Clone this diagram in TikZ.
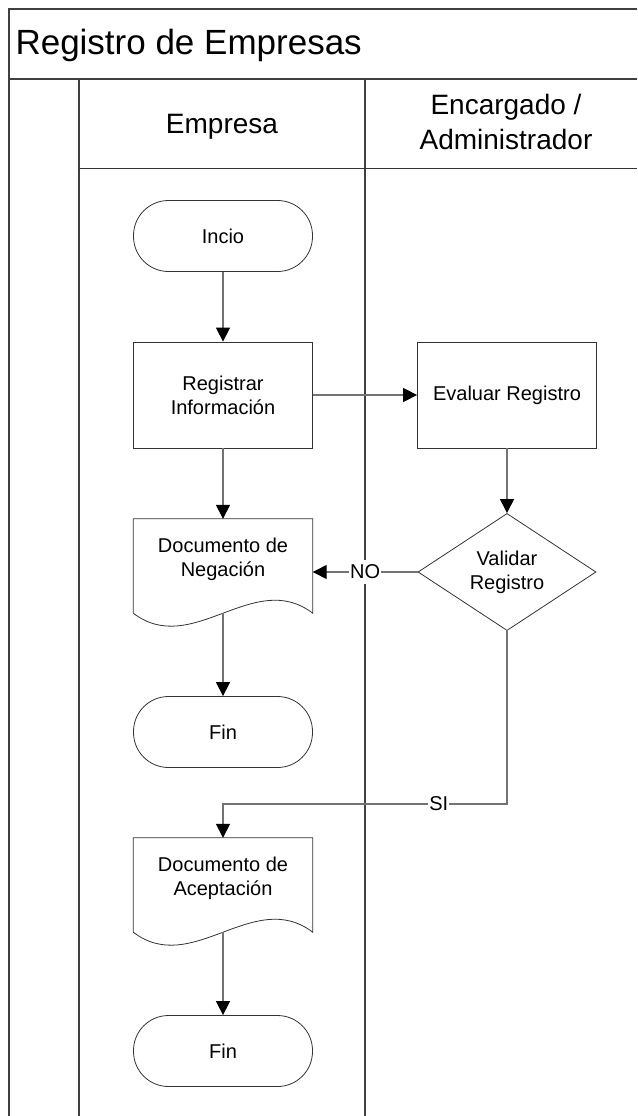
\documentclass[tikz,border=0pt]{standalone}
\usepackage{fontspec}
\setmainfont{Liberation Sans}
\usetikzlibrary{shapes.geometric,arrows.meta,calc}

% contorno de hoja con borde ondulado
\newcommand{\hojadoc}[1]{%
  \draw[borde] (#1.south west) -- (#1.north west) -- (#1.north east) -- (#1.south east)
    .. controls ($(#1.south east)+(-59,-45)$) and ($(#1.south west)+(59,45)$) .. (#1.south west);}

\begin{document}
\begin{tikzpicture}
  [x=1pt,y=-1pt,
   every node/.style={font=\fontsize{20}{24}\selectfont,align=center},
   borde/.style={draw=black!80,line width=0.8pt},
   carril/.style={draw=black!75,line width=1.6pt},
   proceso/.style={rectangle,borde,minimum width=179pt,minimum height=106pt},
   terminal/.style={rectangle,rounded corners=35pt,borde,minimum width=179pt,minimum height=71pt},
   documento/.style={rectangle,minimum width=179pt,minimum height=94pt,text depth=18pt},
   decision/.style={diamond,borde,inner sep=0pt,minimum width=178pt,minimum height=106pt},
   flecha/.style={draw=black!55,line width=1.4pt,-{Triangle[length=14pt,width=14pt,color=black]}},
   etiqueta/.style={fill=white,inner xsep=1pt,inner ysep=5pt}]
  \useasboundingbox (0,0) rectangle (637,1116);

  % carriles
  \draw[carril] (9,1116) -- (9,9) -- (637,9);
  \draw[carril] (9,79) -- (637,79);
  \draw[carril] (79,79) -- (79,1116);
  \draw[carril] (365,79) -- (365,1116);
  \draw[borde] (79,168) -- (637,168);

  \node[anchor=base west,font=\fontsize{35}{42}\selectfont] (titulo) at (12,55) {Registro de Empresas};
  \node[anchor=base,font=\fontsize{28}{35}\selectfont] (empresa) at (222,133) {Empresa};
  \node[font=\fontsize{28}{35}\selectfont] (encargado) at (506,122) {Encargado /\\Administrador};

  \node[terminal] (inicio) at (223,236) {Incio};
  \node[proceso] (registrar) at (223,395) {Registrar\\Información};
  \node[proceso] (evaluar) at (507,395) {Evaluar Registro};
  \node[documento] (negacion) at (223,566) {Documento de\\Negación};
  \node[decision] (validar) at (507,572) {Validar\\Registro};
  \node[terminal] (fin1) at (223,732) {Fin};
  \node[documento] (aceptacion) at (223,885) {Documento de\\Aceptación};
  \node[terminal] (fin2) at (223,1051) {Fin};
  \coordinate (codo) at (507,804);

  \hojadoc{negacion}
  \hojadoc{aceptacion}

  \foreach \from/\to in {inicio/registrar,registrar/evaluar,registrar/negacion,
                         evaluar/validar,negacion/fin1,aceptacion/fin2}
    \draw[flecha] (\from) -- (\to);

  \draw[flecha] (validar.west) -- node[etiqueta] {NO} (negacion.east |- validar.west);
  \draw[flecha] (validar) -- (codo) -| node[etiqueta,pos=0.12,inner ysep=2pt] {SI} (aceptacion);

\end{tikzpicture}
\end{document}
